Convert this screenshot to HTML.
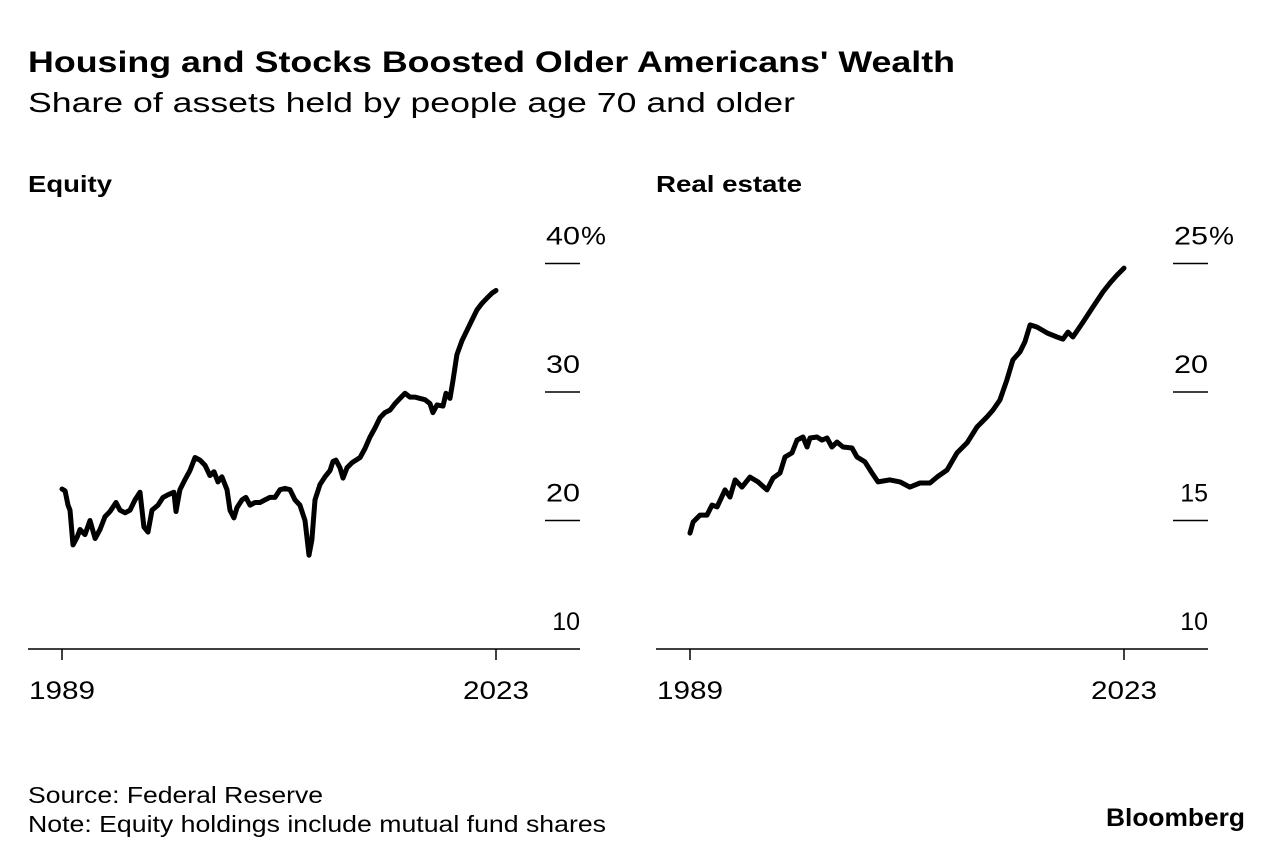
<!DOCTYPE html>
<html><head><meta charset="utf-8">
<style>
body{margin:0;background:#fff;font-family:"Liberation Sans",Arial,sans-serif;color:#000}
#wrap{position:relative;width:1284px;height:862px;overflow:hidden}
svg text{font-family:"Liberation Sans",Arial,sans-serif}
</style></head><body>
<div id="wrap">
<svg id="svg" width="1284" height="862">
<text x="28" y="72" font-size="30" font-weight="bold" textLength="927" lengthAdjust="spacingAndGlyphs">Housing and Stocks Boosted Older Americans' Wealth</text>
<text x="28" y="112" font-size="28" textLength="767" lengthAdjust="spacingAndGlyphs">Share of assets held by people age 70 and older</text>
<text x="28" y="192" font-size="23" font-weight="bold" textLength="84" lengthAdjust="spacingAndGlyphs">Equity</text>
<text x="656" y="192" font-size="23" font-weight="bold" textLength="146" lengthAdjust="spacingAndGlyphs">Real estate</text>
<text x="28" y="803" font-size="23" textLength="295" lengthAdjust="spacingAndGlyphs">Source: Federal Reserve</text>
<text x="28" y="832" font-size="23" textLength="578" lengthAdjust="spacingAndGlyphs">Note: Equity holdings include mutual fund shares</text>
<text x="1106" y="826" font-size="25" font-weight="bold" textLength="139" lengthAdjust="spacingAndGlyphs">Bloomberg</text>
<g id="g1"></g>
<g id="g2"></g>
</svg>
</div>
<script>
const eqYears=[1989.0,1989.24,1989.47,1989.63,1989.86,1990.18,1990.41,1990.8,1991.19,1991.59,1991.98,1992.37,1992.76,1993.23,1993.54,1993.94,1994.33,1994.72,1995.11,1995.42,1995.74,1996.05,1996.52,1996.91,1997.3,1997.77,1997.93,1998.24,1998.64,1999.03,1999.42,1999.81,2000.2,2000.59,2000.91,2001.22,2001.53,2001.93,2002.16,2002.47,2002.71,2003.1,2003.41,2003.73,2004.12,2004.51,2004.9,2005.29,2005.69,2006.08,2006.47,2006.86,2007.25,2007.64,2008.04,2008.35,2008.58,2008.82,2009.21,2009.6,2010.0,2010.23,2010.46,2010.78,2011.01,2011.33,2011.72,2012.03,2012.35,2012.74,2013.13,2013.52,2013.91,2014.3,2014.7,2015.09,2015.48,2015.87,2016.26,2016.65,2017.05,2017.44,2017.83,2018.06,2018.38,2018.85,2019.08,2019.4,2019.63,2019.94,2020.34,2020.73,2021.12,2021.51,2021.9,2022.29,2022.69,2023.0];
const eqValues=[22.45,22.3,21.2,20.8,18.1,18.7,19.3,18.9,20.0,18.6,19.3,20.3,20.7,21.4,20.8,20.6,20.8,21.6,22.2,19.5,19.1,20.8,21.2,21.8,22.0,22.2,20.7,22.4,23.2,23.9,24.9,24.7,24.3,23.5,23.8,23.0,23.4,22.4,20.8,20.2,21.0,21.6,21.8,21.2,21.4,21.4,21.6,21.8,21.8,22.4,22.5,22.4,21.6,21.2,20.0,17.3,18.5,21.6,22.8,23.4,23.9,24.6,24.7,24.1,23.3,24.1,24.5,24.7,24.9,25.6,26.5,27.2,28.0,28.4,28.6,29.1,29.5,29.9,29.6,29.6,29.5,29.4,29.1,28.4,29.0,28.9,29.9,29.5,30.9,32.9,34.0,34.8,35.6,36.4,36.9,37.3,37.7,37.9];
const reYears=[1989.0,1989.24,1989.78,1990.33,1990.72,1991.12,1991.74,1992.13,1992.53,1993.07,1993.7,1994.33,1995.03,1995.5,1996.05,1996.44,1996.99,1997.38,1997.85,1998.17,1998.4,1998.95,1999.34,1999.73,2000.12,2000.52,2000.99,2001.69,2002.08,2002.71,2003.26,2003.73,2004.67,2005.45,2006.23,2007.02,2007.8,2008.35,2009.13,2009.92,2010.7,2011.48,2012.27,2012.74,2013.28,2013.83,2014.3,2014.85,2015.24,2015.64,2016.18,2016.97,2017.75,2018.22,2018.61,2019.0,2019.79,2020.57,2021.35,2021.9,2022.45,2023.0];
const reValues=[14.51,14.94,15.21,15.21,15.6,15.53,16.19,15.91,16.58,16.3,16.69,16.5,16.19,16.65,16.85,17.47,17.63,18.13,18.25,17.86,18.21,18.25,18.13,18.21,17.86,18.05,17.86,17.82,17.47,17.28,16.85,16.5,16.58,16.5,16.3,16.46,16.46,16.69,16.96,17.63,18.02,18.64,19.03,19.3,19.69,20.47,21.25,21.56,21.95,22.61,22.53,22.3,22.14,22.06,22.33,22.14,22.72,23.31,23.89,24.24,24.55,24.82];
const eqTicks=[10,20,30,40];
const reTicks=[10,15,20,25];
const xTickYears=[1989,2023];
const NS='http://www.w3.org/2000/svg';
function mk(parent,tag,attrs){const e=document.createElementNS(NS,tag);for(const k in attrs)e.setAttribute(k,attrs[k]);parent.appendChild(e);return e;}
function panel(g,x0,years,values,ticks,yMin,yMax,prefix){
  const xs=y=>x0+34+(y-1989)/(2023-1989)*434;
  const ys=v=>649-(v-yMin)/(yMax-yMin)*385.5;
  const ax=mk(g,'line',{x1:x0,x2:x0+552,y1:649,y2:649,stroke:'#000','stroke-width':1.5});
  
  
  xTickYears.forEach(yr=>{
    const t=mk(g,'line',{x1:xs(yr),x2:xs(yr),y1:649,y2:660,stroke:'#000','stroke-width':1.5});
    
    
    const l=mk(g,'text',{x:xs(yr)-33,y:699,'font-size':25,textLength:66,lengthAdjust:'spacingAndGlyphs'});
    l.textContent=yr;
    
    
  });
  ticks.forEach((v,i)=>{
    const y=ys(v);
    if(i>0){const t=mk(g,'line',{x1:x0+517,x2:x0+552,y1:y,y2:y,stroke:'#000','stroke-width':1.5});
    
    }
    const s=String(v);
    let l;
    if(s.startsWith('1')){
      l=mk(g,'text',{x:x0+552,y:y-19,'font-size':25,'text-anchor':'end'});
    } else {
      l=mk(g,'text',{x:x0+518,y:y-19,'font-size':25,textLength:34,lengthAdjust:'spacingAndGlyphs'});
    }
    l.textContent=s;
    
    
    if(i===ticks.length-1){const p=mk(g,'text',{x:x0+553,y:y-19,'font-size':25,textLength:25,lengthAdjust:'spacingAndGlyphs'});p.textContent='%';
    
    }
  });
  const d=years.map((yr,i)=>(i?'L':'M')+xs(yr).toFixed(1)+','+ys(values[i]).toFixed(1)).join(' ');
  const path=mk(g,'path',{d:d,fill:'none',stroke:'#000','stroke-width':5,'stroke-linejoin':'round','stroke-linecap':'round'});
  
  
}
panel(document.getElementById('g1'),28,eqYears,eqValues,eqTicks,10,40,'equity');
panel(document.getElementById('g2'),656,reYears,reValues,reTicks,10,25,'real-estate');
</script>
</body></html>
